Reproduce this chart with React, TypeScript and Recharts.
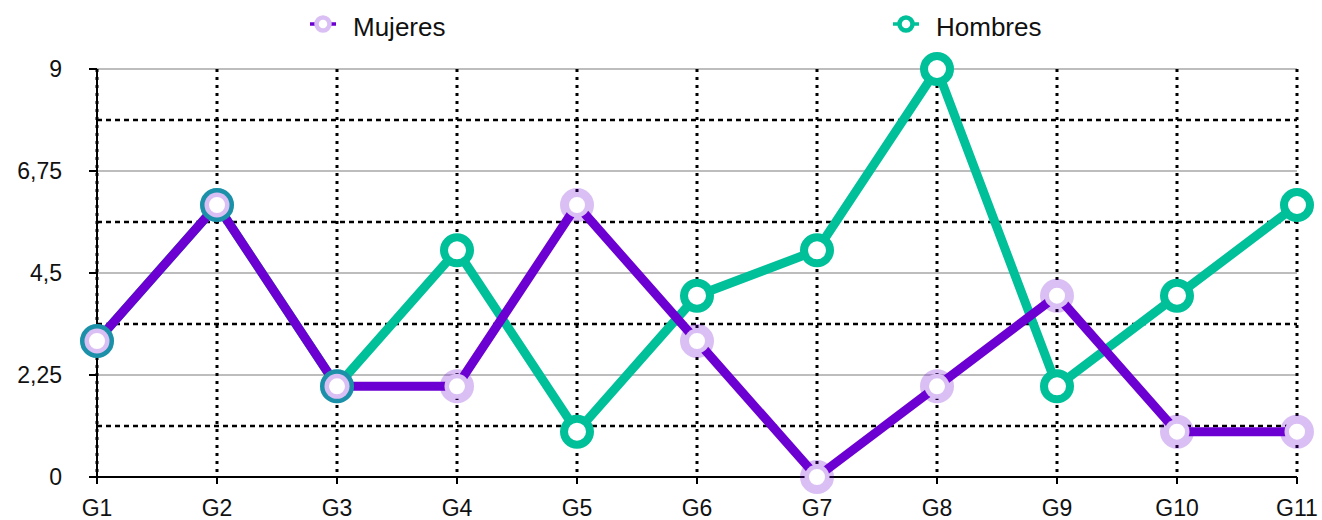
import { CartesianGrid, Line, LineChart, ReferenceLine, XAxis, YAxis } from "recharts";

const categories = ["G1", "G2", "G3", "G4", "G5", "G6", "G7", "G8", "G9", "G10", "G11"];
const mujeres = [3, 6, 2, 2, 6, 3, 0, 2, 4, 1, 1];
const hombres = [3, 6, 2, 5, 1, 4, 5, 9, 2, 4, 6];
const yTicks = [0, 2.25, 4.5, 6.75, 9];
const yMidLines = [1.125, 3.375, 5.625, 7.875];

const PURPLE = "#6c00d2";
const LAVENDER = "#dabff4";
const GREEN = "#00c09a";
const FONT = '"Liberation Sans", Arial, Helvetica, sans-serif';
const TICK_SIZE = 23;

const data = categories.map((g, i) => ({ g, mujeres: mujeres[i], hombres: hombres[i] }));

const fmt = (v: number) => String(v).replace(".", ",");

// white disc with a translucent purple ring on top, so overlapping markers tint through
const mujeresDot = (p: any) => (
  <circle
    key={`m-${p.index}`}
    cx={p.cx}
    cy={p.cy}
    r={12.5}
    fill="#fff"
    stroke={PURPLE}
    strokeOpacity={0.25}
    strokeWidth={9}
  />
);

const hombresDot = (p: any) => (
  <circle key={`h-${p.index}`} cx={p.cx} cy={p.cy} r={13} fill="#fff" stroke={GREEN} strokeWidth={8} />
);

const XTick = (p: any) => (
  <text x={p.x} y={p.y + 14} textAnchor="middle" fontSize={TICK_SIZE} fontFamily={FONT} fill="#111">
    {p.payload.value}
  </text>
);

const YTick = (p: any) => (
  <text x={p.x} y={p.y + 8} textAnchor="end" fontSize={TICK_SIZE} fontFamily={FONT} fill="#111">
    {fmt(p.payload.value)}
  </text>
);

function LegendBar() {
  const items = [
    { name: "Mujeres", color: PURPLE, ring: LAVENDER, x: 310 },
    { name: "Hombres", color: GREEN, ring: GREEN, x: 893 },
  ];
  return (
    <svg width={1322} height={50} style={{ position: "absolute", left: 0, top: 0 }}>
      {items.map((it) => (
        <g key={it.name}>
          <line x1={it.x} x2={it.x + 26} y1={24} y2={24} stroke={it.color} strokeWidth={3.5} />
          <circle cx={it.x + 13} cy={24} r={6.5} fill="#fff" stroke={it.ring} strokeWidth={4.5} />
          <text x={it.x + 43} y={36} fontSize={26} fontFamily={FONT} fill="#111">
            {it.name}
          </text>
        </g>
      ))}
    </svg>
  );
}

export default function App() {
  return (
    <div style={{ position: "absolute", left: 0, top: 0, width: 1322, height: 520, background: "#fff" }}>
      <LineChart
        width={1322}
        height={520}
        data={data}
        margin={{ top: 69, right: 25, bottom: 0, left: 0 }}
        style={{ fontFamily: FONT }}
      >
        <CartesianGrid vertical={false} stroke="#bdbdbd" strokeWidth={2} />
        <CartesianGrid horizontal={false} stroke="#000" strokeWidth={3} strokeDasharray="3 5" />
        {yMidLines.map((v) => (
          <ReferenceLine key={v} y={v} stroke="#000" strokeWidth={2.5} strokeDasharray="5 4" />
        ))}
        <XAxis
          dataKey="g"
          height={43}
          interval={0}
          tickSize={7}
          tickMargin={18}
          axisLine={{ stroke: "#000", strokeWidth: 2 }}
          tickLine={{ stroke: "#000", strokeWidth: 2 }}
          tick={XTick}
        />
        <YAxis
          domain={[0, 9]}
          ticks={yTicks}
          width={97}
          tickSize={8}
          tickMargin={27}
          axisLine={{ stroke: "#000", strokeWidth: 2 }}
          tickLine={{ stroke: "#000", strokeWidth: 2 }}
          tick={YTick}
        />
        <Line
          type="linear"
          dataKey="hombres"
          name="Hombres"
          stroke={GREEN}
          strokeWidth={9}
          dot={hombresDot}
          activeDot={false}
          isAnimationActive={false}
        />
        <Line
          type="linear"
          dataKey="mujeres"
          name="Mujeres"
          stroke={PURPLE}
          strokeWidth={9}
          dot={mujeresDot}
          activeDot={false}
          isAnimationActive={false}
        />
      </LineChart>
      <LegendBar />
    </div>
  );
}
